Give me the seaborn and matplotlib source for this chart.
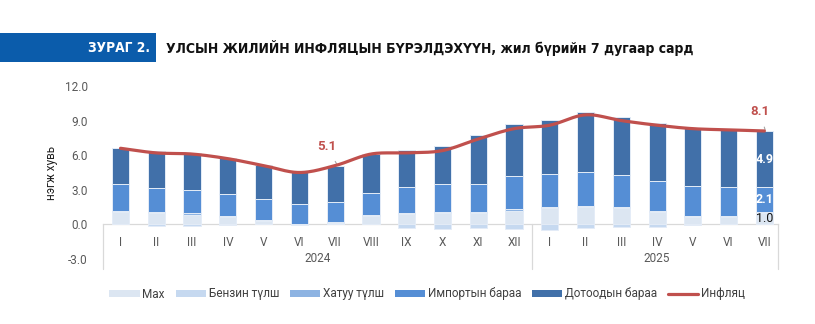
import numpy as np
import pandas as pd
import matplotlib
matplotlib.use("Agg")
import matplotlib.pyplot as plt
import seaborn as sns
from matplotlib import font_manager
from matplotlib.patches import Patch, Rectangle
from matplotlib.lines import Line2D

# ---- data (percentage-point contributions to annual inflation) ----
years = ["2024"] * 12 + ["2025"] * 7
months = ["I", "II", "III", "IV", "V", "VI", "VII", "VIII", "IX", "X", "XI", "XII",
          "I", "II", "III", "IV", "V", "VI", "VII"]

meat = [1.1, 1.0, 0.85, 0.62, 0.3, -0.05, 0.1, 0.7, 0.9, 0.97, 0.97, 1.2,
        1.4, 1.5, 1.38, 1.1, 0.68, 0.68, 1.0]
petrol = [0.0, -0.15, -0.15, -0.02, 0.0, 0.0, 0.0, 0.0, -0.3, -0.4, -0.3, -0.4,
          -0.45, -0.3, -0.25, -0.22, -0.06, 0.0, 0.05]
coal = [0.1, 0.1, 0.1, 0.1, 0.1, 0.06, 0.1, 0.08, 0.1, 0.1, 0.1, 0.1,
        0.1, 0.1, 0.1, 0.09, 0.08, 0.08, 0.05]
imported = [2.3, 2.05, 2.05, 1.95, 1.83, 1.68, 1.75, 1.97, 2.2, 2.4, 2.4, 2.87,
            2.85, 2.95, 2.84, 2.61, 2.54, 2.44, 2.1]
domestic = [3.1, 3.2, 3.2, 3.05, 2.9, 2.81, 3.15, 3.35, 3.25, 3.3, 4.25, 4.53,
            4.7, 5.22, 4.96, 5.0, 5.02, 4.97, 4.9]
inflation = [6.6, 6.2, 6.1, 5.7, 5.1, 4.5, 5.1, 6.1, 6.2, 6.4, 7.4, 8.3,
             8.6, 9.5, 9.0, 8.6, 8.3, 8.2, 8.1]

series_names = ["Мах", "Бензин түлш", "Хатуу түлш", "Импортын бараа", "Дотоодын бараа"]
series_values = [meat, petrol, coal, imported, domestic]
series_colors = ["#dce6f2", "#c6d9f0", "#8db3e2", "#558ed5", "#4170a9"]
line_name = "Инфляц"
line_color = "#c0504d"

fig_label = "ЗУРАГ 2."
fig_title = "УЛСЫН ЖИЛИЙН ИНФЛЯЦЫН БҮРЭЛДЭХҮҮН, жил бүрийн 7 дугаар сард"

periods = [f"{y}-{m}" for y, m in zip(years, months)]

# ---- figure ----
sns.set_style("white")
plt.rcParams["font.family"] = ["Roboto", "DejaVu Sans"]

fig = plt.figure(figsize=(8.15, 3.24), dpi=100)
W, H = 815, 324
ax = fig.add_axes([103 / W, 1 - 259 / H, 675 / W, 173 / H])

pos_base = np.zeros(len(periods))
neg_base = np.zeros(len(periods))
for name, vals, col in zip(series_names, series_values, series_colors):
    v = np.array(vals, dtype=float)
    bottoms = np.where(v >= 0, pos_base, neg_base)
    df = pd.DataFrame({"period": periods, "value": v})
    sns.barplot(data=df, x="period", y="value", order=periods, color=col,
                bottom=bottoms, width=0.48, edgecolor="#e4ecf7", linewidth=0.7,
                saturation=1, ax=ax, zorder=2)
    pos_base = np.where(v >= 0, pos_base + v, pos_base)
    neg_base = np.where(v < 0, neg_base + v, neg_base)

# smoothed inflation curve (Catmull-Rom through the monthly points)
def catmull_rom(xp, yp, n=20):
    P = np.column_stack([np.asarray(xp, float), np.asarray(yp, float)])
    P = np.vstack([2 * P[0] - P[1], P, 2 * P[-1] - P[-2]])
    out = []
    t = np.linspace(0, 1, n, endpoint=False)[:, None]
    for i in range(1, len(P) - 2):
        p0, p1, p2, p3 = P[i - 1], P[i], P[i + 1], P[i + 2]
        seg = 0.5 * ((2 * p1) + (-p0 + p2) * t + (2 * p0 - 5 * p1 + 4 * p2 - p3) * t ** 2
                     + (-p0 + 3 * p1 - 3 * p2 + p3) * t ** 3)
        out.append(seg)
    out.append(P[-2][None, :])
    return np.vstack(out)

xpos = np.arange(len(periods))
curve = catmull_rom(xpos, inflation)
ax.plot(curve[:, 0], curve[:, 1], color=line_color, lw=2.3, zorder=4,
        solid_capstyle="round")

# axes styling
ax.set_xlim(-0.49, 18.38)
ax.set_ylim(-3, 12)
ax.set_yticks([-3, 0, 3, 6, 9, 12])
ax.set_yticklabels([f"{t:.1f}" for t in [-3, 0, 3, 6, 9, 12]])
ax.tick_params(axis="y", length=0, pad=11, labelsize=8.5, labelcolor="#595959")
ax.tick_params(axis="x", length=0, pad=8, labelsize=8.5, labelcolor="#595959")
ax.set_xticks(xpos)
ax.set_xticklabels(months)
ax.set_xlabel("")
ax.set_ylabel("нэгж хувь", fontsize=8.5, color="#222222", labelpad=5)
for s in ["top", "right", "left"]:
    ax.spines[s].set_visible(False)
ax.spines["bottom"].set_position(("data", 0))
ax.spines["bottom"].set_color("#d9d9d9")
ax.spines["bottom"].set_linewidth(0.9)
ax.spines["bottom"].set_zorder(1)

# year group separators and labels
for xs in [-0.49, 11.5, 18.38]:
    ax.plot([xs, xs], [0, -3.85], color="#d9d9d9", lw=0.9, clip_on=False, zorder=1)
ax.text(5.5, -2.95, "2024", ha="center", va="center", fontsize=8.5, color="#595959")
ax.text(15, -2.95, "2025", ha="center", va="center", fontsize=8.5, color="#595959")

# value labels
ax.annotate(f"{inflation[6]:.1f}", xy=(6.05, inflation[6] + 0.1), xytext=(5.77, 6.73),
            ha="center", va="center", fontsize=9.5, fontweight="bold", color=line_color,
            arrowprops=dict(arrowstyle="-", color="#a6a6a6", lw=0.8, shrinkA=4, shrinkB=0))
ax.annotate(f"{inflation[18]:.1f}", xy=(18.02, inflation[18] + 0.1), xytext=(17.87, 9.75),
            ha="center", va="center", fontsize=9.5, fontweight="bold", color=line_color,
            arrowprops=dict(arrowstyle="-", color="#a6a6a6", lw=0.8, shrinkA=4, shrinkB=0))
last = len(periods) - 1
base_imp = meat[last] + max(petrol[last], 0) + coal[last]
ax.text(last, base_imp + imported[last] + domestic[last] / 2, f"{domestic[last]:.1f}",
        ha="center", va="center", fontsize=9, fontweight="bold", color="white", zorder=5)
ax.text(last, base_imp + imported[last] / 2, f"{imported[last]:.1f}",
        ha="center", va="center", fontsize=9, fontweight="bold", color="white", zorder=5)
ax.text(last, meat[last] / 2, f"{meat[last]:.1f}",
        ha="center", va="center", fontsize=9, color="#111111", zorder=5)

# legend
handles = [Patch(facecolor=c, edgecolor="none", label=n) for n, c in zip(series_names, series_colors)]
handles.append(Line2D([0], [0], color=line_color, lw=2.3, label=line_name))
fig.legend(handles=handles, loc="center", bbox_to_anchor=(427 / W, 1 - 294 / H), ncol=6,
           frameon=False, fontsize=8.5, handlelength=2.6, handleheight=0.55,
           handletextpad=0.2, columnspacing=0.9, labelcolor="#404040")

# header: condensed bold face where one is installed
head_props = dict(family="DejaVu Sans", weight="bold", stretch="condensed")
try:
    path = font_manager.findfont(font_manager.FontProperties(**head_props), fallback_to_default=False)
    if "ondensed" not in path:
        head_props = dict(family="Roboto", weight="bold")
except Exception:
    head_props = dict(family="Roboto", weight="bold")

fig.patches.append(Rectangle((0, 1 - 62 / H), 156 / W, 29 / H, transform=fig.transFigure,
                             facecolor="#0b5cab", edgecolor="none"))
t_label = fig.text(150 / W, 1 - 47.5 / H, fig_label, ha="right", va="center", color="white",
                   fontsize=11.5, **head_props)
t_title = fig.text(166 / W, 1 - 47.5 / H, fig_title, ha="left", va="center", color="#111111",
                   fontsize=11.5, **head_props)

# size the header texts to their column widths
renderer = fig.canvas.get_renderer()
for txt, target in [(t_label, 62), (t_title, 532)]:
    w = txt.get_window_extent(renderer).width
    txt.set_fontsize(min(12.5, txt.get_fontsize() * target / w))

fig.savefig("out.png", dpi=100)
